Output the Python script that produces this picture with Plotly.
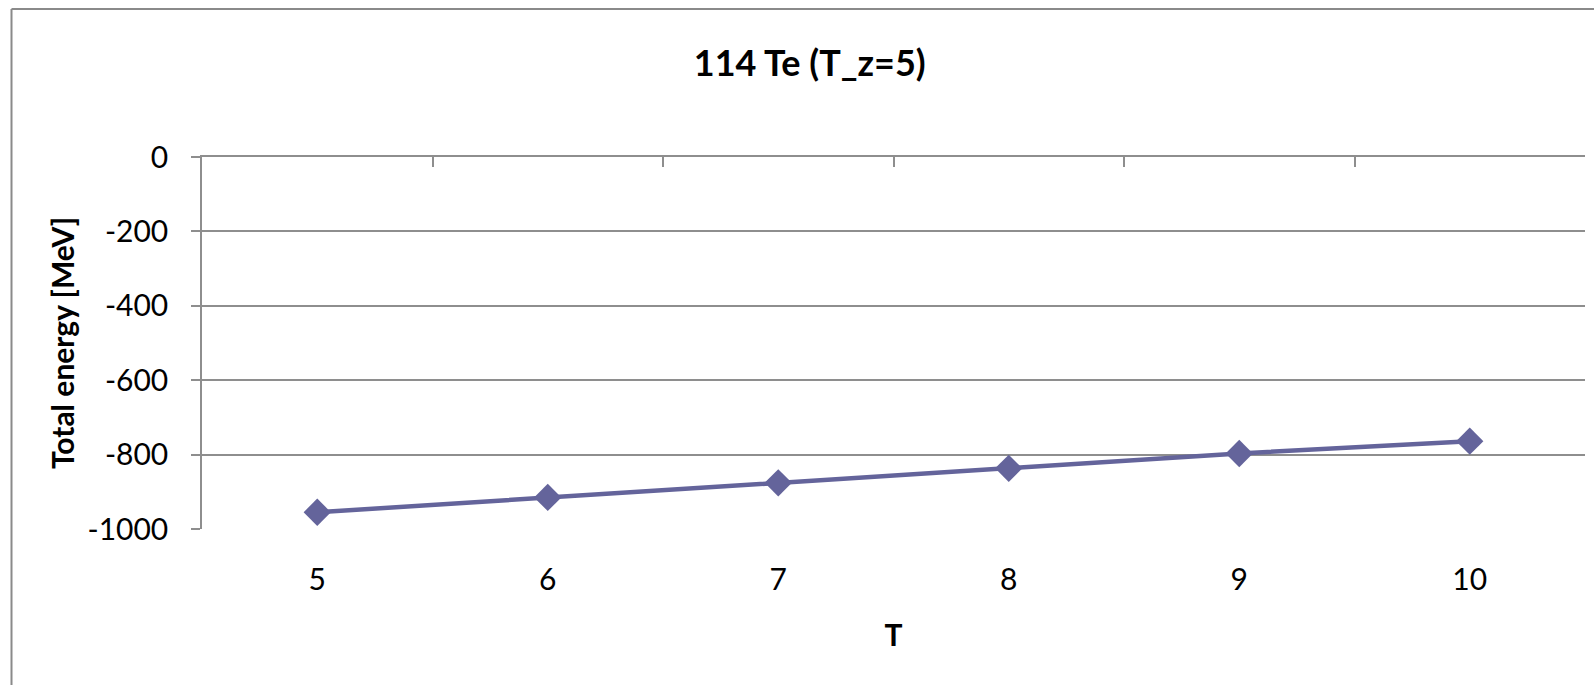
import plotly.graph_objects as go

categories = [5, 6, 7, 8, 9, 10]
total_energy = [-955, -915, -876, -837, -797, -764]
y_ticks = [0, -200, -400, -600, -800, -1000]
title_text = "114 Te (T_z=5)"
x_title = "T"
y_title = "Total energy [MeV]"

FONT = "Lato"
GRID = "#8e8e8e"
LINE = "#64649b"

fig = go.Figure()
fig.add_trace(go.Scatter(
    x=categories, y=total_energy, mode="lines+markers",
    line=dict(color=LINE, width=4.5),
    marker=dict(symbol="diamond", size=21, color=LINE),
    showlegend=False, hoverinfo="x+y",
))
# invisible trace on top axis to carry category-boundary ticks
fig.add_trace(go.Scatter(x=[categories[0] - 0.5, categories[-1] + 0.5], y=[0, 0],
                         xaxis="x2", mode="lines", line=dict(width=0),
                         showlegend=False, hoverinfo="skip"))

xr = [categories[0] - 0.5, categories[-1] + 0.5]
fig.update_layout(
    width=1594, height=685,
    margin=dict(l=202, r=9, t=157, b=156),
    paper_bgcolor="white", plot_bgcolor="white",
    font=dict(family=FONT, color="black"),
    title=dict(text="<b>" + title_text + "</b>", x=0.508, xanchor="center",
               y=1 - 63 / 685, yanchor="middle", yref="container",
               font=dict(size=36, family=FONT)),
    xaxis=dict(range=xr, tickvals=categories, ticktext=[str(c) for c in categories],
               showgrid=False, showline=False, zeroline=False, ticks="",
               tickfont=dict(size=30), ticklabelstandoff=30,
               title=dict(text="<b>" + x_title + "</b>", font=dict(size=30), standoff=29)),
    xaxis2=dict(range=xr, overlaying="x", side="top", anchor="y",
                tickvals=[c + 0.5 for c in [categories[0] - 1] + categories],
                showticklabels=False, ticks="inside", ticklen=10, tickcolor=GRID,
                tickwidth=1.5, showline=True, linecolor=GRID, linewidth=1.5,
                showgrid=False, zeroline=False),
    yaxis=dict(range=[-1000, 0], tickvals=y_ticks, ticktext=[str(v) for v in y_ticks],
               showgrid=True, gridcolor=GRID, gridwidth=1.5,
               showline=True, linecolor=GRID, linewidth=1.5, zeroline=False,
               ticks="outside", ticklen=9, tickcolor=GRID, tickwidth=1.5,
               tickfont=dict(size=30), ticklabelstandoff=17,
               title=dict(text="<b>" + y_title + "</b>", font=dict(size=30), standoff=4)),
    shapes=[
        dict(type="line", xref="paper", yref="paper",
             x0=(11.5 - 202) / 1383, x1=(11.5 - 202) / 1383,
             y0=(529 - 700) / 372.3, y1=(529 - 8.5) / 372.3,
             line=dict(color="#8a8a8a", width=2)),
        dict(type="line", xref="paper", yref="paper",
             x0=(11.5 - 202) / 1383, x1=(1600 - 202) / 1383,
             y0=(529 - 8.5) / 372.3, y1=(529 - 8.5) / 372.3,
             line=dict(color="#8a8a8a", width=2)),
    ],
)

fig.write_html("out.html")
